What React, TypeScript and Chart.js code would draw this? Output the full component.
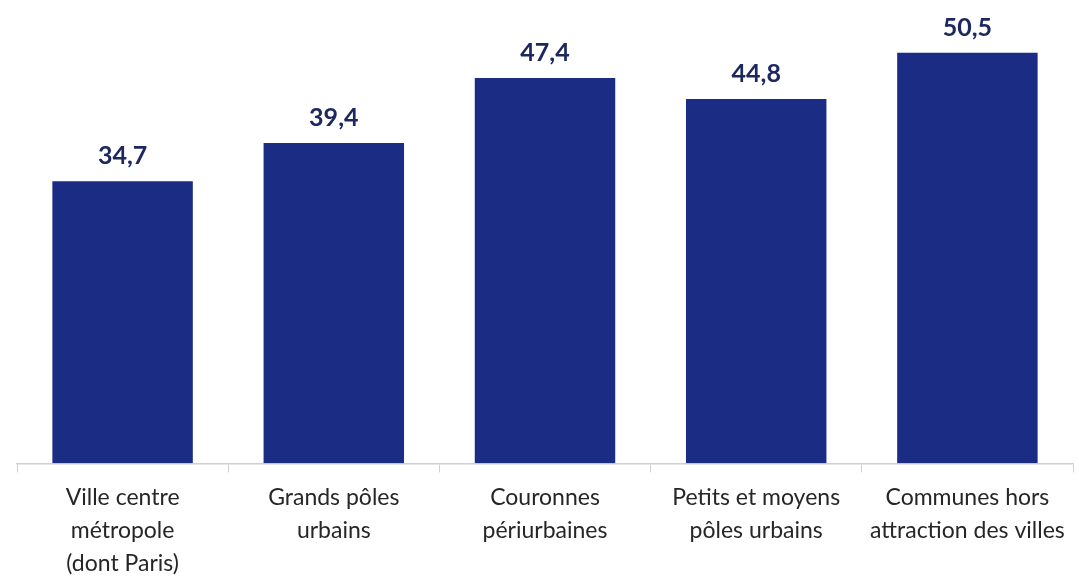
import React, { useEffect, useRef } from "react";
import { Chart, registerables } from "chart.js";

Chart.register(...registerables);

const categories: string[][] = [
  ["Ville centre", "métropole", "(dont Paris)"],
  ["Grands pôles", "urbains"],
  ["Couronnes", "périurbaines"],
  ["Petits et moyens", "pôles urbains"],
  ["Communes hors", "attraction des villes"],
];
const values: number[] = [34.7, 39.4, 47.4, 44.8, 50.5];

const valueLabels = {
  id: "valueLabels",
  afterDatasetsDraw(chart: any) {
    const ctx = chart.ctx;
    const meta = chart.getDatasetMeta(0);
    ctx.save();
    ctx.font = "bold 25px Lato, 'Open Sans', sans-serif";
    ctx.fillStyle = "#1d2860";
    ctx.textAlign = "center";
    ctx.textBaseline = "middle";
    meta.data.forEach((bar: any, i: number) => {
      ctx.fillText(values[i].toFixed(1).replace(".", ","), bar.x, bar.y - 25);
    });
    ctx.restore();
  },
};

export default function App() {
  const ref = useRef<HTMLCanvasElement>(null);
  useEffect(() => {
    if (!ref.current) return;
    const chart = new Chart(ref.current, {
      type: "bar",
      data: {
        labels: categories,
        datasets: [
          {
            data: values,
            backgroundColor: "#1b2c84",
            barPercentage: 1,
            categoryPercentage: 0.665,
          },
        ],
      },
      options: {
        animation: false,
        responsive: false,
        layout: { padding: { left: 17, right: 6, top: 8, bottom: -12 } },
        plugins: { legend: { display: false }, tooltip: { enabled: false } },
        scales: {
          y: { display: false, min: 0, max: 56 },
          x: {
            grid: {
              display: true,
              drawOnChartArea: false,
              drawTicks: true,
              tickLength: 9,
              color: "#d0d0d0",
              offset: true,
            },
            border: { display: true, color: "#d0d0d0", width: 1.5 },
            ticks: {
              color: "#262626",
              padding: 9,
              maxRotation: 0,
              autoSkip: false,
              font: { family: "Lato, 'Open Sans', sans-serif", size: 23, lineHeight: 1.43 },
            },
          },
        },
      },
      plugins: [valueLabels],
    });
    return () => chart.destroy();
  }, []);
  return (
    <div style={{ position: "fixed", left: 0, top: 0, width: 1079, height: 577, background: "#fff" }}>
      <canvas ref={ref} width={1079} height={577} style={{ display: "block" }} />
    </div>
  );
}
